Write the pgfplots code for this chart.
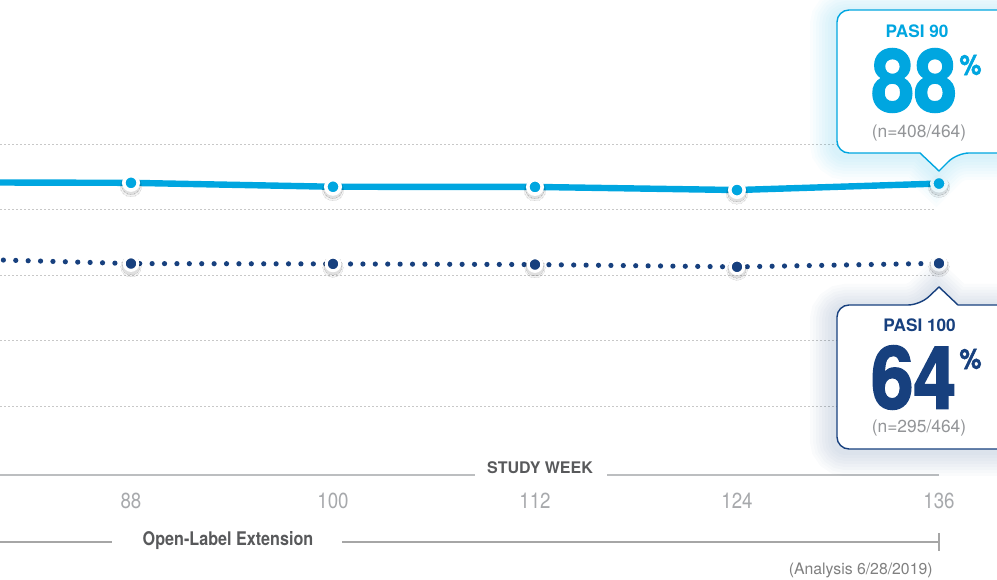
\documentclass[border=0pt]{standalone}
\usepackage{fontspec}
\setmainfont{TeX Gyre Heros}
\newfontfamily\cond{TeX Gyre Heros}[FakeStretch=0.86]
\newfontfamily\condb{TeX Gyre Heros}[FakeStretch=0.88, BoldFeatures={FakeBold=2}]
\usepackage{pgfplots}
\pgfplotsset{compat=1.18}
\definecolor{pcyan}{HTML}{00A6E0}
\definecolor{pnavy}{HTML}{17407E}
\definecolor{tickgray}{HTML}{A7A9AC}
\definecolor{labgray}{HTML}{58595B}
\definecolor{linegray}{HTML}{BCBEC0}
\definecolor{gridgray}{HTML}{C8C8C8}
\definecolor{ngray}{HTML}{939598}

\pgfplotstableread{
week val
76  88.30
88  88.15
100 86.95
112 86.90
124 85.95
136 87.93
}\pasininety
\pgfplotstableread{
week val
76  65.20
88  63.50
100 63.40
112 63.20
124 62.50
136 63.58
}\pasihundred

\newcommand\topcall[1]{\draw[#1] (920,153) [rounded corners=6pt] -- (837,153) -- (837,10) -- (1010,10) -- (1010,153) -- (957,153) [sharp corners] -- (939,171) -- cycle;}
\newcommand\botcall[1]{\draw[#1] (958,305) [rounded corners=6pt] -- (1010,305) -- (1010,449) -- (837,449) -- (837,305) -- (920,305) [sharp corners] -- (939,287) -- cycle;}

\begin{document}
\begin{tikzpicture}
\begin{axis}[
  at={(0pt,0pt)}, anchor=south west,
  width=498.5pt, height=289.5pt, scale only axis,
  xmin=80.218, xmax=139.446, ymin=-32.8, ymax=143.97,
  axis line style={draw=none},
  xtick={88,100,112,124,136}, ytick=\empty,
  major tick length=0pt,
  /pgf/number format/assume math mode=true,
  xticklabel style={anchor=center, yshift=39pt, inner sep=0pt,
    font=\cond\fontsize{10.9}{12}\selectfont, text=tickgray},
  clip mode=individual,
]
\pgfplotsinvokeforeach{20,40,60,80,100}{
  \draw[gridgray, line width=0.5pt, dash pattern=on 1pt off 1pt]
    (axis cs:80.218,#1) -- (axis cs:135.7,#1);
}
% PASI 90 line
\addplot[pcyan, line width=3.2pt, line join=round] table[x=week,y=val] {\pasininety};
% PASI 100 dotted line
\addplot[pnavy, line width=2.6pt, line cap=round, dash pattern=on 0pt off 6.2pt] table[x=week,y=val] {\pasihundred};
% marker shadows (soft)
\addplot[only marks, mark=*, mark size=5.4pt,
  mark options={draw=black, fill=black, line width=0pt, opacity=0.05, yshift=-1.6pt}] table[x=week,y=val] {\pasininety};
\addplot[only marks, mark=*, mark size=4.7pt,
  mark options={draw=black, fill=black, line width=0pt, opacity=0.08, yshift=-1.2pt}] table[x=week,y=val] {\pasininety};
\addplot[only marks, mark=*, mark size=5.1pt,
  mark options={draw=black, fill=black, line width=0pt, opacity=0.05, yshift=-1.6pt}] table[x=week,y=val] {\pasihundred};
\addplot[only marks, mark=*, mark size=4.4pt,
  mark options={draw=black, fill=black, line width=0pt, opacity=0.08, yshift=-1.2pt}] table[x=week,y=val] {\pasihundred};
% markers
\addplot[only marks, mark=*, mark size=3.6pt,
  mark options={fill=pcyan, draw=white, line width=1.8pt}] table[x=week,y=val] {\pasininety};
\addplot[only marks, mark=*, mark size=3.4pt,
  mark options={fill=pnavy, draw=white, line width=1.5pt}] table[x=week,y=val] {\pasihundred};
\end{axis}

\begin{scope}[x=0.5pt, y=-0.5pt, shift={(0pt,289.5pt)}]
  % axis decoration
  \draw[linegray, line width=1pt] (0,475) -- (475,475);
  \draw[linegray, line width=1pt] (607,475) -- (939,475);
  \node[labgray, font=\bfseries\fontsize{8}{10}\selectfont, inner sep=0pt] at (540,468) {STUDY WEEK};
  \draw[gray!70, line width=0.65pt] (0,542) -- (112,542);
  \draw[gray!70, line width=0.65pt] (342,542) -- (939,542);
  \draw[gray!70, line width=0.65pt] (939,533) -- (939,551);
  \node[labgray, font=\cond\bfseries\fontsize{9.4}{11}\selectfont, inner sep=0pt] at (228,541) {Open-Label Extension};
  \node[gray, font=\fontsize{7.9}{10}\selectfont, inner sep=0pt, anchor=east] at (933,570.5) {(Analysis 6/28/2019)};

  % top callout
  \foreach \w in {24,21,18,15,12,9,6,3}{
    \topcall{pcyan, line width=\w pt, opacity=0.018, xshift=-1.5pt, yshift=-1.5pt}
  }
  \topcall{fill=white, draw=pcyan, line width=0.7pt}
  \node[pcyan, font=\bfseries\fontsize{8.6}{10}\selectfont, inner sep=0pt] at (917,31) {PASI 90};
  \node[pcyan, font=\condb\bfseries\fontsize{43.5}{46}\selectfont, inner sep=0pt] at (914,80.5) {88};
  \node[pcyan, font=\condb\bfseries\fontsize{14}{16}\selectfont, inner sep=0pt] at (970.5,65) {\%};
  \node[ngray, font=\fontsize{8.7}{10}\selectfont, inner sep=0pt] at (919,133.5) {(n=408/464)};

  % bottom callout
  \foreach \w in {24,21,18,15,12,9,6,3}{
    \botcall{pnavy, line width=\w pt, opacity=0.018, xshift=-1.5pt, yshift=-1.5pt}
  }
  \botcall{fill=white, draw=pnavy, line width=0.7pt}
  \node[pnavy, font=\bfseries\fontsize{8.6}{10}\selectfont, inner sep=0pt] at (919.5,325) {PASI 100};
  \node[pnavy, font=\condb\bfseries\fontsize{43.5}{46}\selectfont, inner sep=0pt] at (913.5,377.5) {64};
  \node[pnavy, font=\condb\bfseries\fontsize{14}{16}\selectfont, inner sep=0pt] at (970.5,359) {\%};
  \node[ngray, font=\fontsize{8.7}{10}\selectfont, inner sep=0pt] at (919,428) {(n=295/464)};
\end{scope}

\pgfresetboundingbox
\useasboundingbox (0pt,0pt) rectangle (498.5pt,289.5pt);
\end{tikzpicture}
\end{document}
